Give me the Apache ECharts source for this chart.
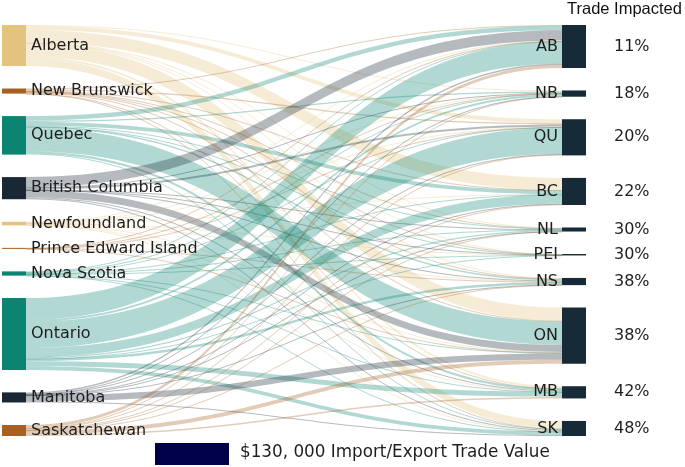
<!DOCTYPE html>
<html>
<head>
<meta charset="utf-8">
<script src="https://cdn.jsdelivr.net/npm/echarts@6/dist/echarts.min.js"></script>
<style>
html,body{margin:0;padding:0;background:#fff;}
#chart{width:685px;height:467px;}
</style>
</head>
<body>
<div id="chart"></div>
<script>
// Source provinces (left column)
const provinces = ['Alberta', 'New Brunswick', 'Quebec', 'British Columbia', 'Newfoundland',
  'Prince Edward Island', 'Nova Scotia', 'Ontario', 'Manitoba', 'Saskatchewan'];
// Target provinces (right column)
const targets = ['AB', 'NB', 'QU', 'BC', 'NL', 'PEI', 'NS', 'ON', 'MB', 'SK'];
// Share of trade impacted per target
const tradeImpacted = ['11%', '18%', '20%', '22%', '30%', '30%', '38%', '38%', '42%', '48%'];

// Flows from each source to targets (order: AB, NB, QU, BC, NL, PEI, NS, ON, MB, SK)
const fromAlberta      = [0, 1, 4, 12, 0.5, 0.1, 0.5, 13, 2, 7.5];
const fromNewBrunswick = [0.8, 0, 1.2, 0.4, 0.4, 0.3, 0.7, 0.8, 0.2, 0.2];
const fromQuebec       = [4.5, 1.2, 0, 3.5, 1, 0.2, 1.5, 23, 2, 1.2];
const fromBritishCol   = [10, 0.3, 2, 0, 0.2, 0.1, 0.3, 7, 1, 1];
const fromNewfoundland = [0.5, 0.3, 0.5, 0.3, 0, 0.2, 0.8, 0.5, 0.2, 0.3];
const fromPEI          = [0.2, 0.2, 0.1, 0, 0, 0, 0.3, 0.2, 0, 0];
const fromNovaScotia   = [0.5, 0.7, 0.7, 0.3, 0.4, 0.2, 0, 1, 0.2, 0.2];
const fromOntario      = [21.5, 2, 26, 9, 1.2, 0.3, 2.5, 0, 5, 3.5];
const fromManitoba     = [1.5, 0.2, 0.5, 0.5, 0.1, 0, 0.2, 6, 0, 1];
const fromSaskatchewan = [3, 0.3, 0.8, 0.8, 0.2, 0, 0.3, 4, 1.5, 0];

const flowRows = [fromAlberta, fromNewBrunswick, fromQuebec, fromBritishCol, fromNewfoundland,
  fromPEI, fromNovaScotia, fromOntario, fromManitoba, fromSaskatchewan];

// styles
const TAN = '#E2C47F', BROWN = '#A66022', TEAL = '#0B8572', NAVY = '#1A2836';
const provinceColors = [TAN, BROWN, TEAL, NAVY, TAN, BROWN, TEAL, TEAL, NAVY, BROWN];
const targetColor = '#172A38';
const FONT = 'DejaVu Sans';
const FSIZE = 16;
const NODE_W = 24;
const NAME_GAP = 4;     // gap between target name and its node
const PCT_GAP = 28;     // gap between node and percentage

const measureCtx = document.createElement('canvas').getContext('2d');
measureCtx.font = FSIZE + 'px "' + FONT + '"';
function textW(t) { return measureCtx.measureText(t).width; }

const nodes = [];
provinces.forEach((p, i) => {
  nodes.push({
    name: p,
    itemStyle: { color: provinceColors[i] },
    label: { position: 'right', distance: 5 }
  });
});
targets.forEach((t, i) => {
  const w = textW(t);
  nodes.push({
    name: t,
    itemStyle: { color: targetColor },
    label: {
      position: [-(NAME_GAP + w), '50%'],
      align: 'left',
      verticalAlign: 'middle',
      formatter: '{n|' + t + '}{s| }{p|' + tradeImpacted[i] + '}'
    }
  });
});

const links = [];
flowRows.forEach((row, i) => {
  row.forEach((v, j) => {
    if (v > 0) links.push({ source: provinces[i], target: targets[j], value: v });
  });
});

const chart = echarts.init(document.getElementById('chart'), null, { renderer: 'canvas' });
chart.setOption({
  animation: false,
  backgroundColor: '#ffffff',
  series: [{
    type: 'sankey',
    left: 2,
    right: 99,
    top: 25,
    bottom: 31,
    nodeWidth: NODE_W,
    nodeGap: 22.5,
    layoutIterations: 0,
    draggable: false,
    emphasis: { disabled: true },
    data: nodes,
    links: links,
    itemStyle: { borderWidth: 0 },
    lineStyle: { color: 'source', opacity: 0.32, curveness: 0.5 },
    label: {
      color: '#1e1e1e',
      fontFamily: FONT,
      fontSize: FSIZE,
      rich: {
        n: { fontFamily: FONT, fontSize: FSIZE, color: '#1e1e1e' },
        s: { width: NAME_GAP + NODE_W + PCT_GAP, fontSize: FSIZE },
        p: { fontFamily: FONT, fontSize: FSIZE, color: '#1e1e1e' }
      }
    }
  }],
  graphic: [
    { type: 'text', left: 567, top: 1,
      style: { text: 'Trade Impacted', fontFamily: 'Liberation Sans', fontSize: 16.5, fill: '#111' } },
    { type: 'rect', shape: { x: 155, y: 443, width: 74, height: 22 },
      style: { fill: '#00004A' } },
    { type: 'text', left: 240, top: 444,
      style: { text: '$130, 000 Import/Export Trade Value', fontFamily: FONT, fontSize: 16.8, fill: '#1e1e1e' } }
  ]
});
</script>
</body>
</html>
